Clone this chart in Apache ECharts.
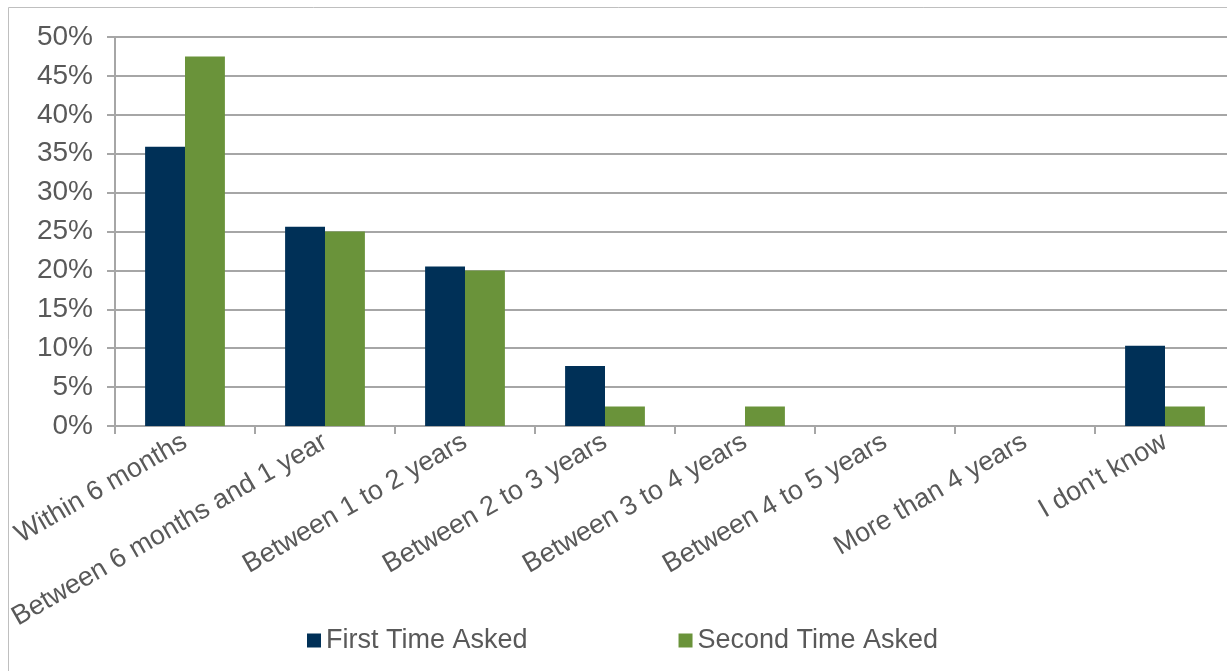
<!DOCTYPE html>
<html>
<head>
<meta charset="utf-8">
<script src="https://cdn.jsdelivr.net/npm/echarts@6/dist/echarts.min.js"></script>
<style>
  html, body { margin: 0; padding: 0; background: #ffffff; }
  #chart { width: 1227px; height: 671px; }
</style>
</head>
<body>
<div id="chart"></div>
<script>
// Survey answers: expected timeframe, share of respondents (%)
const categories = [
  'Within 6 months',
  'Between 6 months and 1 year',
  'Between 1 to 2 years',
  'Between 2 to 3 years',
  'Between 3 to 4 years',
  'Between 4 to 5 years',
  'More than 4 years',
  "I don't know"
];
const firstTimeAsked = [35.9, 25.6, 20.5, 7.7, 0, 0, 0, 10.3];
const secondTimeAsked = [47.5, 25.0, 20.0, 2.5, 2.5, 0, 0, 2.5];
const seriesNames = ['First Time Asked', 'Second Time Asked'];
const yTicks = { min: 0, max: 50, interval: 5 };

const textColor = '#595959';
const lineColor = '#a6a6a6';
const font = 'Liberation Sans, Arial, sans-serif';

const chart = echarts.init(document.getElementById('chart'));
chart.setOption({
  animation: false,
  backgroundColor: '#ffffff',
  textStyle: { fontFamily: font },
  graphic: [{
    type: 'rect',
    shape: { x: 8.5, y: 7.5, width: 1240, height: 700 },
    style: { fill: 'none', stroke: '#bfbfbf', lineWidth: 1 },
    silent: true
  }],
  grid: {
    left: 115, top: 37, width: 1120, height: 389,
    containLabel: false,
    outerBoundsMode: 'none'
  },
  legend: {
    data: seriesNames,
    left: 302,
    top: 622,
    itemWidth: 14,
    itemHeight: 14,
    itemGap: 151,
    icon: 'rect',
    textStyle: { color: textColor, fontSize: 27, fontFamily: font }
  },
  xAxis: {
    type: 'category',
    data: categories,
    axisLine: { lineStyle: { color: lineColor, width: 2 } },
    axisTick: { show: true, alignWithLabel: false, length: 8, lineStyle: { color: lineColor, width: 2 } },
    axisLabel: { rotate: 30, interval: 0, color: textColor, fontSize: 27, fontFamily: font, margin: 14 }
  },
  yAxis: {
    type: 'value',
    min: yTicks.min,
    max: yTicks.max,
    interval: yTicks.interval,
    axisLine: { show: true, lineStyle: { color: lineColor, width: 2 } },
    axisTick: { show: true, length: 8, lineStyle: { color: lineColor, width: 2 } },
    splitLine: { show: true, lineStyle: { color: lineColor, width: 2 } },
    axisLabel: { formatter: '{value}%', color: textColor, fontSize: 28, fontFamily: font, margin: 22 }
  },
  series: [
    {
      name: seriesNames[0],
      type: 'bar',
      data: firstTimeAsked,
      barGap: '0%',
      barCategoryGap: '43%',
      itemStyle: { color: '#003057' }
    },
    {
      name: seriesNames[1],
      type: 'bar',
      data: secondTimeAsked,
      itemStyle: { color: '#6a933a' }
    }
  ]
});
</script>
</body>
</html>
